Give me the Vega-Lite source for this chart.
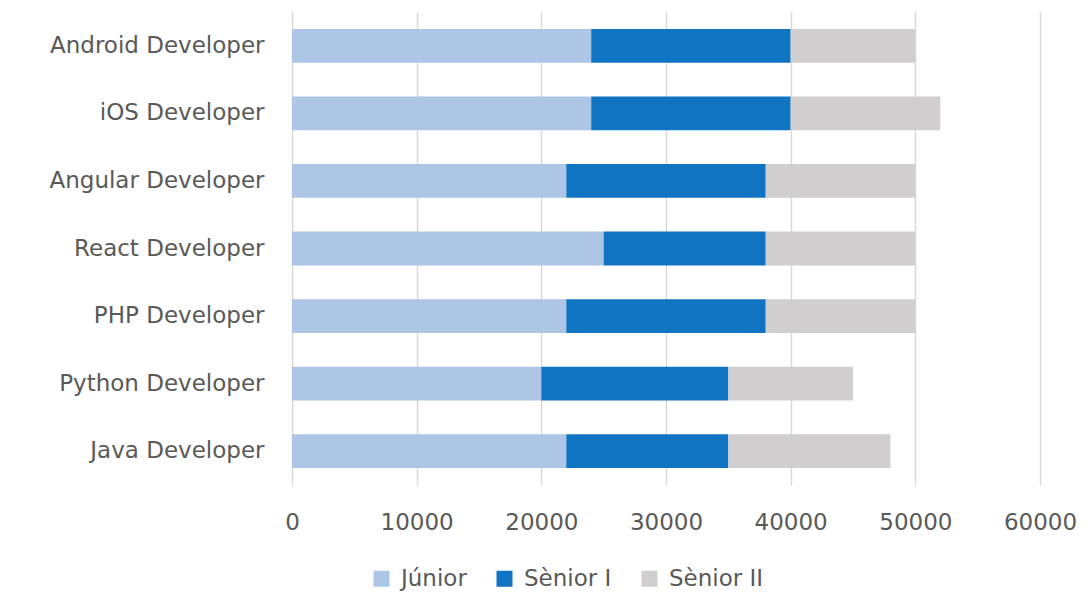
{
  "$schema": "https://vega.github.io/schema/vega-lite/v6.json",
  "width": 748,
  "height": 473,
  "autosize": "none",
  "padding": {"left": 292, "top": 12, "right": 46, "bottom": 108},
  "background": "white",
  "data": {
    "values": [
      {"role": "Android Developer", "level": "Júnior", "ord": 1, "value": 24000},
      {"role": "Android Developer", "level": "Sènior I", "ord": 2, "value": 16000},
      {"role": "Android Developer", "level": "Sènior II", "ord": 3, "value": 10000},
      {"role": "iOS Developer", "level": "Júnior", "ord": 1, "value": 24000},
      {"role": "iOS Developer", "level": "Sènior I", "ord": 2, "value": 16000},
      {"role": "iOS Developer", "level": "Sènior II", "ord": 3, "value": 12000},
      {"role": "Angular Developer", "level": "Júnior", "ord": 1, "value": 22000},
      {"role": "Angular Developer", "level": "Sènior I", "ord": 2, "value": 16000},
      {"role": "Angular Developer", "level": "Sènior II", "ord": 3, "value": 12000},
      {"role": "React Developer", "level": "Júnior", "ord": 1, "value": 25000},
      {"role": "React Developer", "level": "Sènior I", "ord": 2, "value": 13000},
      {"role": "React Developer", "level": "Sènior II", "ord": 3, "value": 12000},
      {"role": "PHP Developer", "level": "Júnior", "ord": 1, "value": 22000},
      {"role": "PHP Developer", "level": "Sènior I", "ord": 2, "value": 16000},
      {"role": "PHP Developer", "level": "Sènior II", "ord": 3, "value": 12000},
      {"role": "Python Developer", "level": "Júnior", "ord": 1, "value": 20000},
      {"role": "Python Developer", "level": "Sènior I", "ord": 2, "value": 15000},
      {"role": "Python Developer", "level": "Sènior II", "ord": 3, "value": 10000},
      {"role": "Java Developer", "level": "Júnior", "ord": 1, "value": 22000},
      {"role": "Java Developer", "level": "Sènior I", "ord": 2, "value": 13000},
      {"role": "Java Developer", "level": "Sènior II", "ord": 3, "value": 13000}
    ]
  },
  "mark": {"type": "bar"},
  "encoding": {
    "y": {
      "field": "role",
      "type": "nominal",
      "sort": ["Android Developer", "iOS Developer", "Angular Developer", "React Developer", "PHP Developer", "Python Developer", "Java Developer"],
      "scale": {"paddingInner": 0.5, "paddingOuter": 0.25},
      "axis": {
        "title": null,
        "domain": false,
        "ticks": false,
        "labelPadding": 28,
        "labelFontSize": 23,
        "labelColor": "#595959",
        "labelFont": "DejaVu Sans",
        "labelLimit": 400
      }
    },
    "x": {
      "field": "value",
      "type": "quantitative",
      "stack": "zero",
      "scale": {"domain": [0, 60000], "nice": false},
      "axis": {
        "title": null,
        "values": [0, 10000, 20000, 30000, 40000, 50000, 60000],
        "format": "d",
        "domain": false,
        "ticks": false,
        "grid": true,
        "gridColor": "#d9d9d9",
        "gridWidth": 1.5,
        "labelPadding": 26,
        "labelFontSize": 23,
        "labelColor": "#595959",
        "labelFont": "DejaVu Sans",
        "labelFlush": false
      }
    },
    "color": {
      "field": "level",
      "type": "nominal",
      "sort": ["Júnior", "Sènior I", "Sènior II"],
      "scale": {"domain": ["Júnior", "Sènior I", "Sènior II"], "range": ["#adc6e5", "#1174c2", "#d0cecf"]},
      "legend": {
        "title": null,
        "orient": "none",
        "legendX": 78,
        "legendY": 555,
        "direction": "horizontal",
        "symbolType": "square",
        "symbolSize": 256,
        "symbolStrokeWidth": 0,
        "labelFontSize": 23,
        "labelColor": "#595959",
        "labelFont": "DejaVu Sans",
        "columnPadding": 26,
        "labelOffset": 8
      }
    },
    "order": {"field": "ord", "type": "quantitative"}
  },
  "config": {
    "view": {"stroke": null}
  }
}
